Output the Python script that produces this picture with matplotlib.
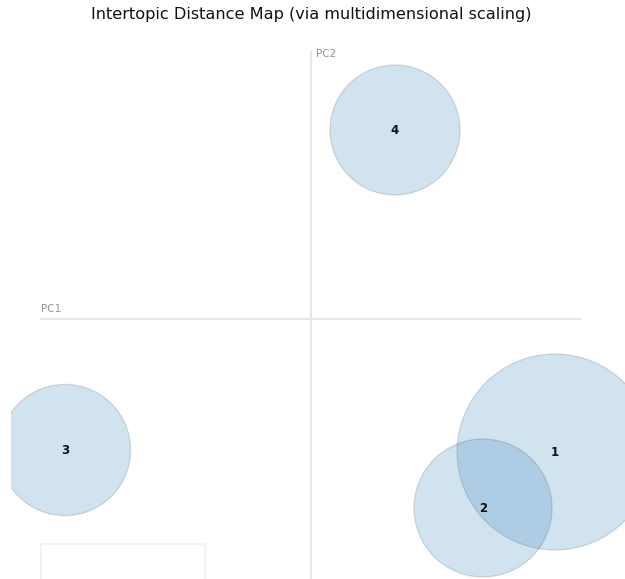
import matplotlib.pyplot as plt
import matplotlib.patches as patches

# topic coordinates on the two principal components and circle radii
topics = ['1', '2', '3', '4']
pc1 = [0.61, 0.43, -0.615, 0.21]
pc2 = [-0.3325, -0.4725, -0.3275, 0.4725]
radius = [0.245, 0.1725, 0.164, 0.1625]

W, H = 625, 579
fig = plt.figure(figsize=(W / 100, H / 100), dpi=100)

# axes area in pixels (left, bottom, width, height)
ax = fig.add_axes([11 / W, 0, 614 / W, 544 / H])
ax.set_xlim(-0.75, 0.785)
ax.set_ylim(-0.65, 0.71)
ax.set_aspect('equal')
ax.axis('off')

# PC axes
axis_col = '#e6e6e6'
ax.plot([0, 0], [-0.65, 0.6675], color=axis_col, lw=1.5, zorder=0)
ax.plot([-0.675, 0.6725], [0, 0], color=axis_col, lw=1.5, zorder=0)
ax.text(-0.675, 0.012, 'PC1', color='#8a96a0', fontsize=7.5, ha='left', va='bottom')
ax.text(0.0125, 0.65, 'PC2', color='#8a96a0', fontsize=7.5, ha='left', va='bottom')

# faint box at bottom-left
ax.add_patch(patches.Rectangle((-0.675, -0.7), 0.41, 0.1375,
                               fill=False, edgecolor='#f2f2f2', lw=1.5, zorder=0))

for t, x, y, r in zip(topics, pc1, pc2, radius):
    c = patches.Circle((x, y), r, facecolor=(31 / 255, 119 / 255, 180 / 255, 0.2),
                       edgecolor=(0, 0, 0, 0.12), lw=1)
    ax.add_patch(c)
    ax.text(x, y, t, ha='center', va='center', fontsize=8.5, fontweight='bold', color='#111111')

fig.text(311 / W, 1 - 15 / H, 'Intertopic Distance Map (via multidimensional scaling)',
         ha='center', va='center', fontsize=11.6, color='#111111')

fig.savefig('out.png', dpi=100)
